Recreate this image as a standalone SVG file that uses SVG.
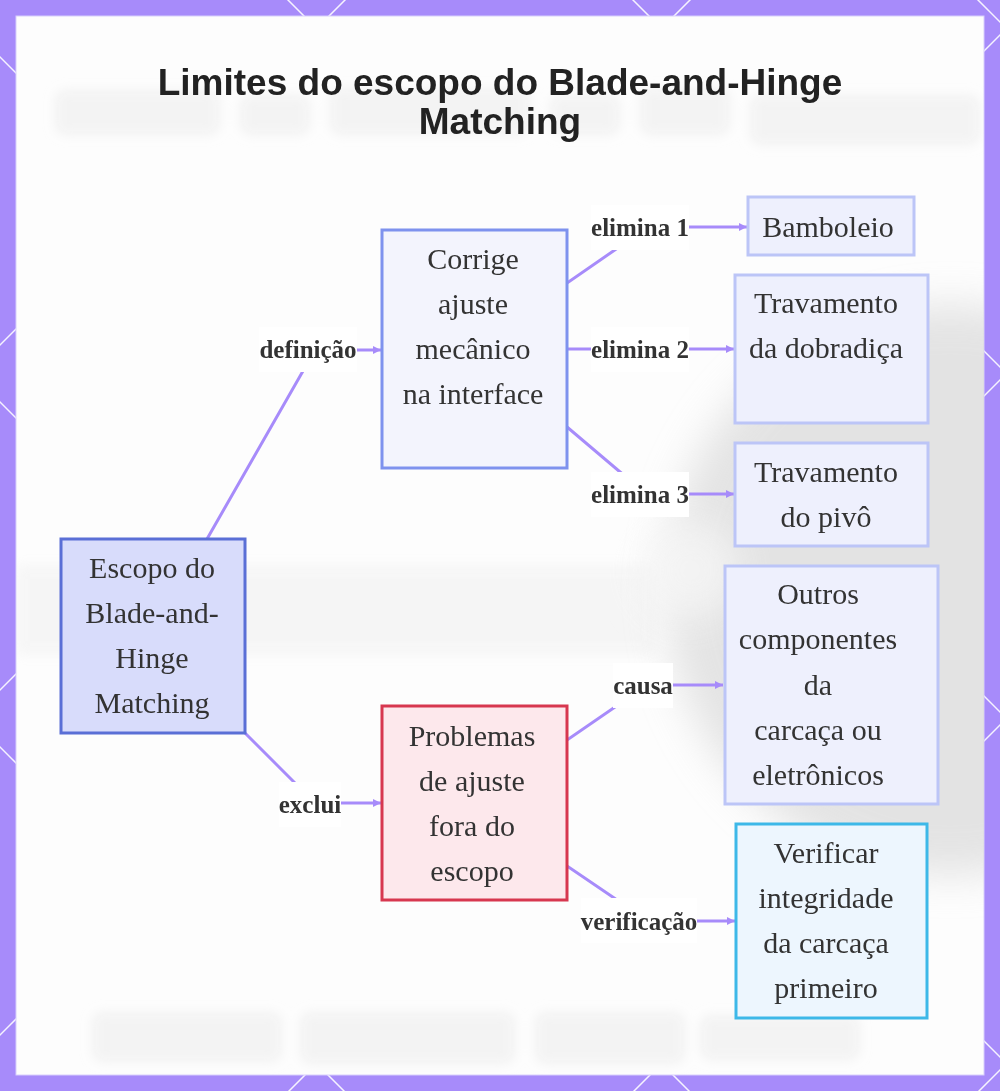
<svg xmlns="http://www.w3.org/2000/svg" width="1000" height="1091" viewBox="0 0 1000 1091">
  <defs>
    <style>
      .lat { stroke: #ffffff; stroke-width: 1.5; opacity: 0.9; }
      .node-text { font-family: "Liberation Serif", "Times New Roman", serif; font-size: 30px; fill: #333333; text-anchor: middle; }
      .lbl-text { font-family: "Liberation Serif", "Times New Roman", serif; font-size: 25px; font-weight: bold; fill: #333333; text-anchor: middle; }
      .lbl-bg { fill: #ffffff; }
      .edge { fill: none; stroke: #a78bfa; stroke-width: 3; marker-end: url(#arrow); }
      .title { font-family: "Liberation Sans", Arial, sans-serif; font-size: 37px; font-weight: bold; fill: #222222; text-anchor: middle; }
      .ghost { fill: #e6e6e6; opacity: 0.45; }
    </style>
    <marker id="arrow" viewBox="0 0 10 10" refX="10" refY="5" markerWidth="9" markerHeight="8" markerUnits="userSpaceOnUse" orient="auto">
      <path d="M0,0 L10,5 L0,10 z" fill="#a78bfa"/>
    </marker>
    <clipPath id="panelClip">
      <rect x="16" y="16" width="968" height="1059"/>
    </clipPath>
    <filter id="blurBig" x="-30%" y="-30%" width="160%" height="160%">
      <feGaussianBlur stdDeviation="20"/>
    </filter>
    <filter id="blurMid" x="-20%" y="-60%" width="140%" height="220%">
      <feGaussianBlur stdDeviation="6"/>
    </filter>
  </defs>

  <!-- border -->
  <rect x="0" y="0" width="1000" height="1091" fill="#a78bfa"/>
  <g id="lattice">
    <line class="lat" x1="445" y1="-100" x2="-100" y2="445"/>
    <line class="lat" x1="790" y1="-100" x2="-100" y2="790"/>
    <line class="lat" x1="1135" y1="-100" x2="-100" y2="1135"/>
    <line class="lat" x1="1480" y1="-100" x2="-100" y2="1480"/>
    <line class="lat" x1="1825" y1="-100" x2="-100" y2="1825"/>
    <line class="lat" x1="2170" y1="-100" x2="-100" y2="2170"/>
    <line class="lat" x1="-847" y1="-100" x2="453" y2="1200"/>
    <line class="lat" x1="-502" y1="-100" x2="798" y2="1200"/>
    <line class="lat" x1="-157" y1="-100" x2="1143" y2="1200"/>
    <line class="lat" x1="188" y1="-100" x2="1488" y2="1200"/>
    <line class="lat" x1="533" y1="-100" x2="1833" y2="1200"/>
    <line class="lat" x1="878" y1="-100" x2="2178" y2="1200"/>
  </g>

  <!-- panel -->
  <rect x="16" y="16" width="968" height="1059" fill="#fdfdfd" stroke="#d8cffc" stroke-width="1"/>
  <g id="backdrop" clip-path="url(#panelClip)">
    <rect x="16" y="565" width="640" height="90" fill="#e6e6e6" opacity="0.3" filter="url(#blurMid)"/>
    <circle cx="950" cy="590" r="285" fill="#d9d9d9" opacity="0.7" filter="url(#blurBig)"/>
    <circle cx="690" cy="570" r="50" fill="#f7f7f7" opacity="0.8" filter="url(#blurBig)"/>
    <g filter="url(#blurMid)">
      <rect class="ghost" x="55" y="90" width="165" height="45" rx="10"/>
      <rect class="ghost" x="240" y="95" width="70" height="40" rx="10"/>
      <rect class="ghost" x="330" y="88" width="200" height="47" rx="10"/>
      <rect class="ghost" x="550" y="95" width="70" height="40" rx="10"/>
      <rect class="ghost" x="640" y="88" width="90" height="47" rx="10"/>
      <rect class="ghost" x="750" y="95" width="230" height="50" rx="10"/>
      <rect class="ghost" x="92" y="1012" width="190" height="50" rx="10"/>
      <rect class="ghost" x="300" y="1012" width="215" height="52" rx="10"/>
      <rect class="ghost" x="535" y="1012" width="150" height="52" rx="10"/>
      <rect class="ghost" x="700" y="1015" width="160" height="45" rx="10"/>
    </g>
  </g>

  <!-- title -->
  <text class="title" x="500" y="95">Limites do escopo do Blade-and-Hinge</text>
  <text class="title" x="500" y="134">Matching</text>

  <!-- connectors -->
  <g id="connectors">
    <path class="edge" d="M207,539 L315,350 L381,350"/>
    <path class="edge" d="M245,733 L315,803 L381,803"/>
    <path class="edge" d="M567,283 L648,227 L747,227"/>
    <path class="edge" d="M567,349 L734,349"/>
    <path class="edge" d="M567,427 L646,494 L734,494"/>
    <path class="edge" d="M567,740 L647,685 L723,685"/>
    <path class="edge" d="M567,866 L648,921 L735,921"/>

    <g id="edge-labels">
      <rect class="lbl-bg" x="259" y="327" width="98" height="45"/>
      <text class="lbl-text" x="308" y="358">definição</text>
      <rect class="lbl-bg" x="279" y="782" width="62" height="45"/>
      <text class="lbl-text" x="310" y="813">exclui</text>
      <rect class="lbl-bg" x="591" y="205" width="98" height="45"/>
      <text class="lbl-text" x="640" y="236">elimina 1</text>
      <rect class="lbl-bg" x="591" y="327" width="98" height="45"/>
      <text class="lbl-text" x="640" y="358">elimina 2</text>
      <rect class="lbl-bg" x="591" y="472" width="98" height="45"/>
      <text class="lbl-text" x="640" y="503">elimina 3</text>
      <rect class="lbl-bg" x="613" y="663" width="60" height="45"/>
      <text class="lbl-text" x="643" y="694">causa</text>
      <rect class="lbl-bg" x="581" y="898" width="116" height="45"/>
      <text class="lbl-text" x="639" y="930">verificação</text>
    </g>
  </g>

  <!-- nodes -->
  <g id="node-escopo">
    <rect x="61" y="539" width="184" height="194" fill="#d8dcfb" stroke="#5a6fd6" stroke-width="3"/>
    <text class="node-text" x="152" y="578">Escopo do</text>
    <text class="node-text" x="152" y="623">Blade-and-</text>
    <text class="node-text" x="152" y="668">Hinge</text>
    <text class="node-text" x="152" y="713">Matching</text>
  </g>

  <g id="node-corrige">
    <rect x="382" y="230" width="185" height="238" fill="#f3f4fd" stroke="#7e92ee" stroke-width="3"/>
    <text class="node-text" x="473" y="269">Corrige</text>
    <text class="node-text" x="473" y="314">ajuste</text>
    <text class="node-text" x="473" y="359">mecânico</text>
    <text class="node-text" x="473" y="404">na interface</text>
  </g>

  <g id="node-bamboleio">
    <rect x="748" y="197" width="166" height="58" fill="#eef0fd" stroke="#bcc5f7" stroke-width="3"/>
    <text class="node-text" x="828" y="237">Bamboleio</text>
  </g>

  <g id="node-dobradica">
    <rect x="735" y="275" width="193" height="148" fill="#eef0fd" stroke="#bcc5f7" stroke-width="3"/>
    <text class="node-text" x="826" y="313">Travamento</text>
    <text class="node-text" x="826" y="358">da dobradiça</text>
  </g>

  <g id="node-pivo">
    <rect x="735" y="443" width="193" height="103" fill="#eef0fd" stroke="#bcc5f7" stroke-width="3"/>
    <text class="node-text" x="826" y="482">Travamento</text>
    <text class="node-text" x="826" y="527">do pivô</text>
  </g>

  <g id="node-outros">
    <rect x="725" y="566" width="213" height="238" fill="#eef0fd" stroke="#bcc5f7" stroke-width="3"/>
    <text class="node-text" x="818" y="604">Outros</text>
    <text class="node-text" x="818" y="649">componentes</text>
    <text class="node-text" x="818" y="695">da</text>
    <text class="node-text" x="818" y="740">carcaça ou</text>
    <text class="node-text" x="818" y="785">eletrônicos</text>
  </g>

  <g id="node-problemas">
    <rect x="382" y="706" width="185" height="194" fill="#fde8ec" stroke="#d7374f" stroke-width="3"/>
    <text class="node-text" x="472" y="746">Problemas</text>
    <text class="node-text" x="472" y="791">de ajuste</text>
    <text class="node-text" x="472" y="836">fora do</text>
    <text class="node-text" x="472" y="881">escopo</text>
  </g>

  <g id="node-verificar">
    <rect x="736" y="824" width="191" height="194" fill="#edf6fe" stroke="#3db8e8" stroke-width="3"/>
    <text class="node-text" x="826" y="863">Verificar</text>
    <text class="node-text" x="826" y="908">integridade</text>
    <text class="node-text" x="826" y="953">da carcaça</text>
    <text class="node-text" x="826" y="998">primeiro</text>
  </g>
</svg>
